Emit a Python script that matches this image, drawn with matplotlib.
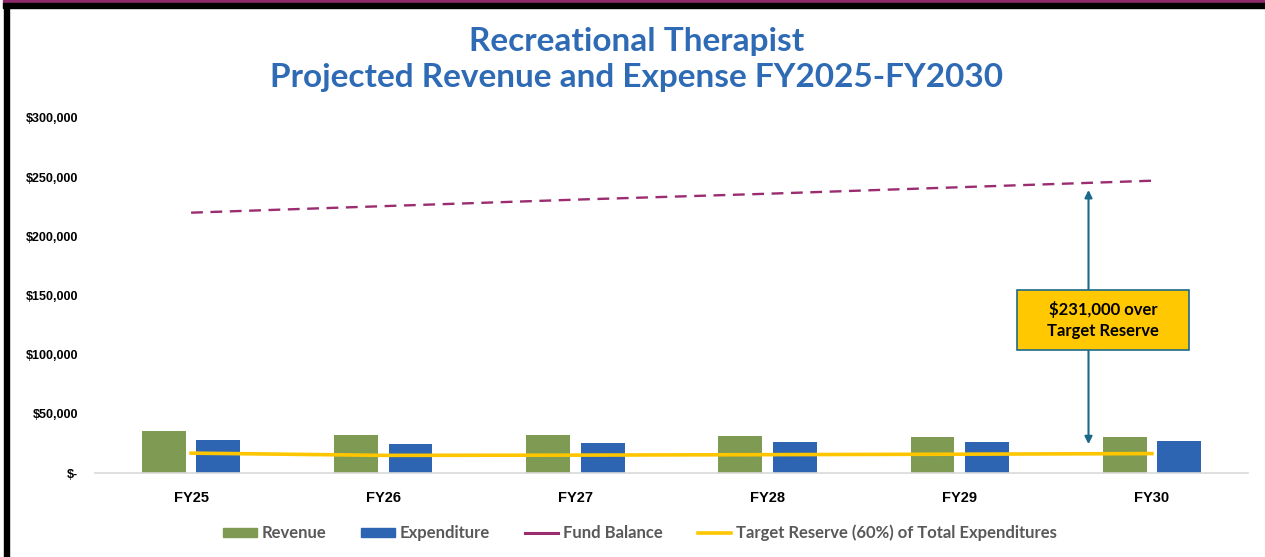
import numpy as np
import matplotlib.pyplot as plt
from matplotlib.patches import Rectangle
from matplotlib.lines import Line2D
from matplotlib.patches import Patch

years = ["FY25", "FY26", "FY27", "FY28", "FY29", "FY30"]
revenue = [35500, 32100, 32100, 31300, 30500, 30400]
expenditure = [27900, 24800, 25100, 25900, 26500, 27300]
fund_balance = [220000, 225500, 231000, 236000, 241500, 247000]
target_reserve = [16800, 14900, 15100, 15500, 15900, 16400]
y_ticks = [0, 50000, 100000, 150000, 200000, 250000, 300000]
y_labels = ["$-", "$50,000", "$100,000", "$150,000", "$200,000", "$250,000", "$300,000"]

green = "#7F9A52"
blue = "#2E65B3"
purple = "#9B2C70"
yellow = "#FFC600"
teal = "#1C6A8A"

fig = plt.figure(figsize=(12.65, 5.57), dpi=100)

# frame bits from the screenshot
fig.patches.append(Rectangle((0.0024, 1 - 3 / 557), 1, 3 / 557, transform=fig.transFigure,
                             color="#8E2A6A", zorder=0))
fig.patches.append(Rectangle((0.0024, 1 - 8 / 557), 1, 5 / 557, transform=fig.transFigure,
                             color="black", zorder=0))
fig.patches.append(Rectangle((4 / 1265, 0), 5 / 1265, 1 - 8 / 557, transform=fig.transFigure,
                             color="black", zorder=0))

ax = fig.add_axes([95 / 1265, 84 / 557, 1153 / 1265, 355 / 557])
x = np.arange(len(years))
w = 0.228
ax.bar(x - 0.142, revenue, w, color=green, zorder=2)
ax.bar(x + 0.142, expenditure, w, color=blue, zorder=2)
ax.plot(x, fund_balance, color=purple, lw=1.7, ls=(0, (5, 3.2)), zorder=3)
ax.plot(x, target_reserve, color=yellow, lw=2.6, zorder=3)

ax.set_xlim(-0.5, 5.5)
ax.set_ylim(0, 300000)
ax.set_yticks(y_ticks)
ax.set_yticklabels(y_labels, fontsize=9, fontweight="bold", family="Liberation Sans")
ax.set_xticks(x)
ax.set_xticklabels(years, fontsize=10.5, fontweight="bold", family="Liberation Sans")
ax.tick_params(length=0)
ax.tick_params(axis="y", pad=12)
ax.tick_params(axis="x", pad=13)
for s in ["top", "right", "left"]:
    ax.spines[s].set_visible(False)
ax.spines["bottom"].set_color("#D9D9D9")
ax.spines["bottom"].set_linewidth(1.2)

# annotation arrow + box
ax.annotate("", xy=(4.67, 241500), xytext=(4.67, 22000),
            arrowprops=dict(arrowstyle="<|-|>", color=teal, lw=1.5, mutation_scale=11), zorder=4)
ax.add_patch(Rectangle((4.3, 104000), 0.895, 50600, fc="#FFC800", ec=teal, lw=1.2, zorder=5))
ax.text(4.745, 129300, "$231,000 over\nTarget Reserve", ha="center", va="center", fontsize=12,
        fontweight="bold", family="Lato", linespacing=1.4, zorder=6)

fig.text(0.503, 0.926, "Recreational Therapist", ha="center", va="center", fontsize=24,
         fontweight="bold", color="#2F6BB5", family="Lato")
fig.text(0.503, 0.860, "Projected Revenue and Expense FY2025-FY2030", ha="center", va="center",
         fontsize=24, fontweight="bold", color="#2F6BB5", family="Lato")

handles = [Patch(color=green), Patch(color=blue),
           Line2D([], [], color=purple, lw=2.2), Line2D([], [], color=yellow, lw=2.6)]
labels = ["Revenue", "Expenditure", "Fund Balance", "Target Reserve (60%) of Total Expenditures"]
leg = ax.legend(handles, labels, loc="center", bbox_to_anchor=(0.473, -0.169), ncol=4, frameon=False,
                handlelength=2.0, handleheight=0.5, columnspacing=2.1, handletextpad=0.3,
                prop={"family": "Lato", "size": 12, "weight": "bold"})
for t in leg.get_texts():
    t.set_color("#595959")

fig.savefig("out.png", dpi=100)
